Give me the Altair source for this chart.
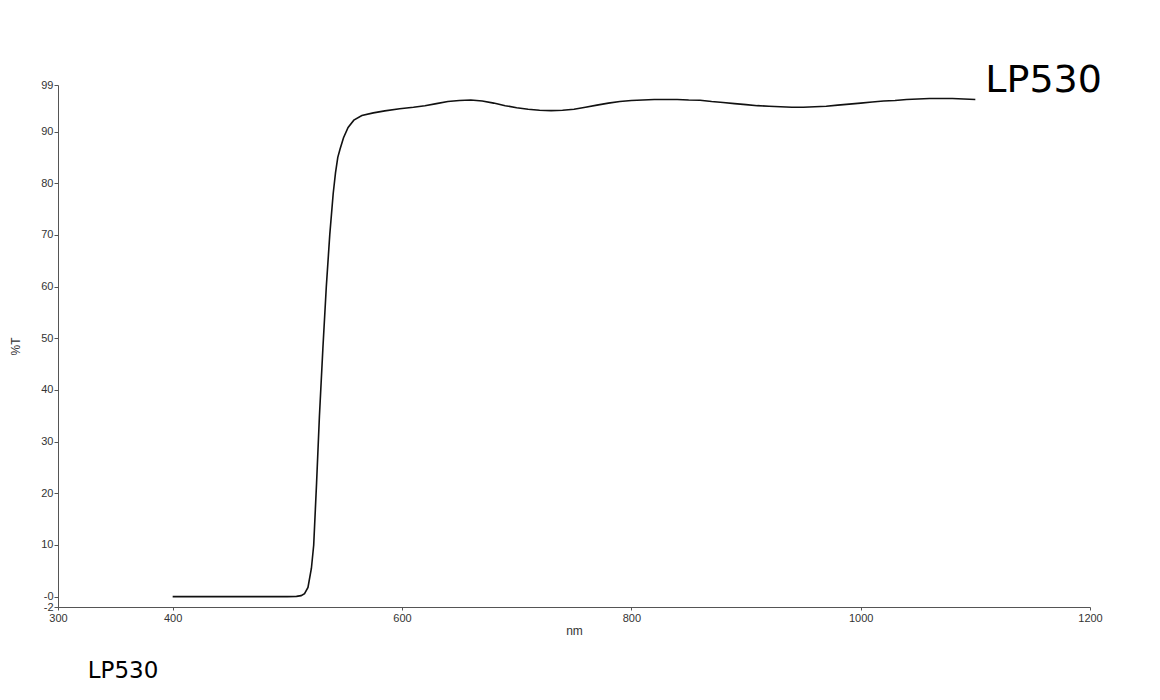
import altair as alt
import pandas as pd

wavelength = [400, 450, 500, 508, 512, 515, 518, 521, 523, 525.5, 528, 531, 534, 537,
              540, 542, 544, 546, 549, 553, 558, 565, 575, 585, 598, 610, 620, 630,
              640, 650, 660, 670, 680, 690, 700, 710, 720, 730, 740, 750, 760, 770,
              780, 790, 800, 810, 820, 830, 840, 850, 860, 870, 880, 890, 900, 910,
              920, 930, 940, 950, 960, 970, 980, 990, 1000, 1010, 1020, 1030, 1040,
              1050, 1060, 1070, 1080, 1090, 1100]
transmission = [0.0, 0.0, 0.0, 0.05, 0.2, 0.6, 1.8, 5.5, 10.0, 22.0, 35.0, 48.0, 60.0, 70.0,
                78.0, 82.0, 85.0, 86.6, 88.8, 90.8, 92.2, 93.1, 93.6, 94.0, 94.4, 94.7, 95.0, 95.4,
                95.8, 96.0, 96.1, 95.9, 95.5, 95.0, 94.6, 94.3, 94.1, 94.05, 94.1, 94.3, 94.7, 95.1,
                95.5, 95.8, 96.0, 96.1, 96.2, 96.2, 96.2, 96.1, 96.05, 95.8, 95.6, 95.4, 95.2, 95.0,
                94.9, 94.8, 94.7, 94.7, 94.8, 94.9, 95.1, 95.3, 95.5, 95.7, 95.9, 96.0, 96.2,
                96.3, 96.4, 96.4, 96.4, 96.3, 96.2]
series_name = "LP530"
x_ticks = [300, 400, 600, 800, 1000, 1200]
y_ticks = [-2, 0, 10, 20, 30, 40, 50, 60, 70, 80, 90, 99]

df = pd.DataFrame({"nm": wavelength, "T": transmission})
end_df = pd.DataFrame({"nm": [wavelength[-1]], "T": [transmission[-1]], "label": [series_name]})

x_enc = alt.X("nm:Q", scale=alt.Scale(domain=[300, 1200], nice=False, zero=False),
              axis=alt.Axis(values=x_ticks, title="nm", grid=False, tickSize=3,
                            labelExpr="'' + datum.value",
                            labelOverlap=False, labelFlush=False,
                            labelFont="Liberation Sans", labelFontSize=11, labelColor="#333",
                            titleFont="Liberation Sans", titleFontSize=12, titleFontWeight="normal",
                            titleColor="#333", titlePadding=2, domainColor="#555", tickColor="#555",
                            labelPadding=2))
y_enc = alt.Y("T:Q", scale=alt.Scale(domain=[-2, 99], nice=False, zero=False),
              axis=alt.Axis(values=y_ticks, title="%T", grid=False, tickSize=4,
                            labelExpr="datum.value == 0 ? '-0' : (datum.value < 0 ? '-' + abs(datum.value) : '' + datum.value)",
                            labelOverlap=False, labelFlush=False,
                            labelFont="Liberation Sans", labelFontSize=11, labelColor="#333",
                            titleFont="Liberation Sans", titleFontSize=12, titleFontWeight="normal",
                            titleColor="#333", titlePadding=18, domainColor="#555", tickColor="#555",
                            labelPadding=1))

line = alt.Chart(df).mark_line(color="#111", strokeWidth=1.6).encode(x=x_enc, y=y_enc)

label = alt.Chart(end_df).mark_text(align="left", baseline="middle", dx=10, dy=-18,
                                    fontSize=38, font="DejaVu Sans", color="#000").encode(
    x="nm:Q", y="T:Q", text="label:N")

chart = alt.layer(line, label).properties(
    width=1032, height=522,
    autosize=alt.AutoSizeParams(type="none"),
    padding={"left": 50, "top": 77, "right": 62, "bottom": 80},
    title=alt.TitleParams(series_name, orient="bottom", anchor="start", fontSize=23,
                          font="DejaVu Sans", fontWeight="normal", color="#000", dx=78, offset=24),
).configure_view(stroke=None)

chart.save("out.html", embed_options={"renderer": "svg", "actions": False})
